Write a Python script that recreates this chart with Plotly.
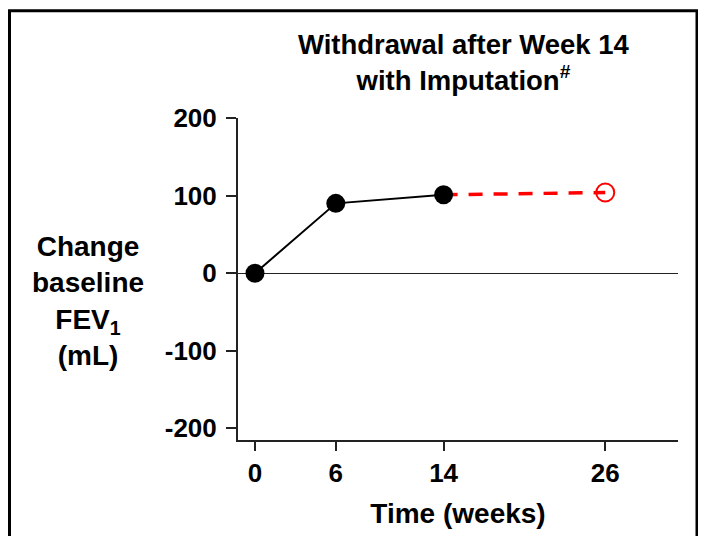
import plotly.graph_objects as go

# Data
weeks_observed = [0, 6, 14]
fev1_observed = [0, 90, 101]
weeks_imputed = [14, 26]
fev1_imputed = [101, 104]
x_ticks = [0, 6, 14, 26]
x_tick_labels = ["0", "6", "14", "26"]
y_ticks = [-200, -100, 0, 100, 200]
y_tick_labels = ["-200", "-100", "0", "100", "200"]

FONT = "Liberation Sans, Arial, sans-serif"

# page has an 8px body margin; figure sized to fit the window
W, H = 698, 528
L, R, T, B = 230, 670, 110, 436
PW, PH = R - L, B - T

def px(fx):
    return (fx - L) / PW

def py(fy):
    return (B - fy) / PH

fig = go.Figure()

fig.add_trace(go.Scatter(
    x=weeks_imputed, y=fev1_imputed, mode="lines",
    line=dict(color="#ff0000", width=3.5, dash="14px,11px"),
    hoverinfo="skip", showlegend=False))
fig.add_trace(go.Scatter(
    x=weeks_imputed[-1:], y=fev1_imputed[-1:], mode="markers",
    marker=dict(symbol="circle-open", size=18, color="#ff0000", line=dict(width=2, color="#ff0000")),
    showlegend=False))
fig.add_trace(go.Scatter(
    x=weeks_observed, y=fev1_observed, mode="lines+markers",
    line=dict(color="#000000", width=2),
    marker=dict(symbol="circle", size=19, color="#000000"),
    showlegend=False))

fig.update_layout(
    width=W, height=H,
    margin=dict(l=L, r=W - R, t=T, b=H - B),
    paper_bgcolor="white", plot_bgcolor="white",
    font=dict(family=FONT, color="#000000"),
    xaxis=dict(
        range=[-1.26, 31.4], tickmode="array", tickvals=x_ticks, ticktext=x_tick_labels,
        ticks="outside", ticklen=9, tickwidth=2, tickcolor="#222",
        showline=True, linecolor="#222", linewidth=2,
        showgrid=False, zeroline=False,
        tickfont=dict(family=FONT, size=26, color="#000", weight="bold"),
        title=dict(text="<b>Time (weeks)</b>", font=dict(family=FONT, size=28, color="#000"), standoff=16),
    ),
    yaxis=dict(
        range=[-215, 200], tickmode="array", tickvals=y_ticks, ticktext=y_tick_labels,
        ticks="outside", ticklen=10, tickwidth=2, tickcolor="#222",
        showline=True, linecolor="#222", linewidth=2,
        showgrid=False, zeroline=True, zerolinecolor="#222", zerolinewidth=1,
        tickfont=dict(family=FONT, size=26, color="#000", weight="bold"),
        ticklabelstandoff=4,
    ),
    shapes=[dict(type="rect", xref="paper", yref="paper",
                 x0=px(1.5), x1=px(689), y0=-0.5, y1=py(1.5),
                 line=dict(color="#000", width=3), layer="below")],
    annotations=[
        dict(text="<b>Withdrawal after Week 14<br>with Imputation<sup>#</sup></b>",
             xref="paper", yref="paper", x=px(456), y=py(54),
             xanchor="center", yanchor="middle", showarrow=False,
             font=dict(family=FONT, size=27.5, color="#000")),
        dict(text="<b>Change<br>baseline<br>FEV<sub>1</sub><br>(mL)</b>",
             xref="paper", yref="paper", x=px(80), y=py(295),
             xanchor="center", yanchor="middle", showarrow=False,
             font=dict(family=FONT, size=28, color="#000")),
    ],
)

fig.write_html("out.html")
